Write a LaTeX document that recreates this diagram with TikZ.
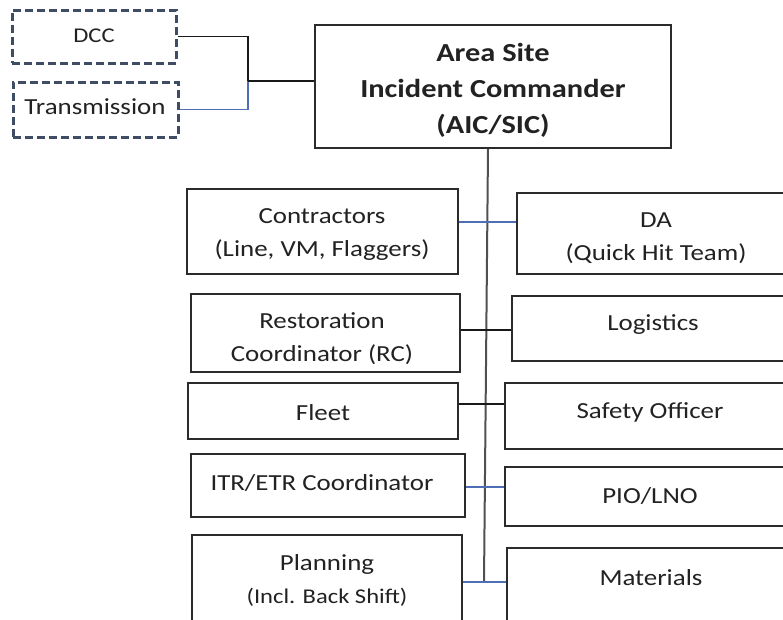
\documentclass[tikz,border=0pt]{standalone}
\usepackage{fontspec}
\setmainfont{Carlito}[FakeStretch=1.17]
\definecolor{boxcol}{HTML}{2B2B2B}
\definecolor{dashcol}{HTML}{3E4C66}
\definecolor{lineblue}{HTML}{4F6EB5}
\definecolor{textcol}{HTML}{222222}
\definecolor{trunkcol}{HTML}{505050}
\tikzset{
  box/.style={draw=boxcol, line width=1.8pt, inner sep=0pt, fill=white},
  dbox/.style={draw=dashcol, line width=3pt, dash pattern=on 8pt off 4pt, inner sep=0pt},
  txt/.style={align=center, text=textcol, inner sep=0pt, font=\fontsize{23}{33}\selectfont},
  smalltxt/.style={align=center, text=textcol, inner sep=0pt, font=\fontsize{21}{28}\selectfont},
  boldtxt/.style={align=center, text=textcol, inner sep=0pt, font=\fontsize{26}{36}\selectfont\bfseries},
  blk/.style={draw=black!90, line width=1.6pt},
  blkthick/.style={draw=black!90, line width=2.4pt},
  blu/.style={draw=lineblue, line width=1.4pt},
  trunk/.style={draw=trunkcol, line width=2pt}
}
\begin{document}
\begin{tikzpicture}[x=1pt,y=-1pt]
\useasboundingbox (0,0) rectangle (783,619);
\clip (0,0) rectangle (783,619);
\fill[white] (0,0) rectangle (783,619);

% trunk
\coordinate (tx) at (488,0);
\coordinate (tb) at (484,582);

% boxes
\node[dbox, minimum width=164pt, minimum height=53pt] (dcc) at (94,36.5) {};
\node[dbox, minimum width=165pt, minimum height=55pt] (trans) at (95.5,109.5) {};
\node[box, minimum width=356pt, minimum height=123pt] (aic) at (493,86.5) {};

\node[box, minimum width=271pt, minimum height=85pt] (contr) at (322.5,231.5) {};
\node[box, minimum width=278pt, minimum height=81pt] (da) at (656,233.5) {};
\node[box, minimum width=269pt, minimum height=78pt] (rest) at (325.5,333) {};
\node[box, minimum width=283pt, minimum height=65pt] (logi) at (653.5,328.5) {};
\node[box, minimum width=270pt, minimum height=56pt] (fleet) at (323,411) {};
\node[box, minimum width=290pt, minimum height=66pt] (safe) at (650,416) {};
\node[box, minimum width=274pt, minimum height=63pt] (itr) at (328,485.5) {};
\node[box, minimum width=290pt, minimum height=59pt] (pio) at (650,496.5) {};
\node[box, minimum width=270pt, minimum height=95pt] (plan) at (327,582.5) {};
\node[box, minimum width=288pt, minimum height=82pt] (mat) at (651,589) {};

% connectors left
\coordinate (j) at (248,81);
\draw[blu] (trans.east) -| (j);
\draw[blk] (dcc.east) -| (j);
\draw[blkthick] (j) -- (aic.west |- j);

% trunk
\draw[trunk] (aic.south -| tx) -- (tb);

% cross connectors
\coordinate (y1) at (0,222);
\coordinate (y2) at (0,330);
\coordinate (y3) at (0,404);
\coordinate (y4) at (0,487);
\coordinate (y5) at (0,582);
\draw[blu] (contr.east |- y1) -- (da.west |- y1);
\draw[blk] (rest.east |- y2) -- (logi.west |- y2);
\draw[blk] (fleet.east |- y3) -- (safe.west |- y3);
\draw[blu] (itr.east |- y4) -- (pio.west |- y4);
\draw[blu] (plan.east |- y5) -- (mat.west |- y5);

% texts
\node[smalltxt] (tdcc) at (94,36) {DCC};
\node[txt] (ttrans) at (95,107) {Transmission};
\node[boldtxt] (taic) at (493,90) {Area Site\\Incident Commander\\(AIC/SIC)};
\node[txt] (tcontr) at (322,235) {Contractors\\(Line, VM, Flaggers)};
\node[txt] (tda) at (656,238) {DA\\(Quick Hit Team)};
\node[txt] (trest) at (322,339) {Restoration\\Coordinator (RC)};
\node[txt] (tlogi) at (653,325) {Logistics};
\node[txt] (tfleet) at (323,413) {Fleet};
\node[txt] (tsafe) at (650,412) {Safety Officer};
\node[txt] (titr) at (322,483) {ITR/ETR Coordinator};
\node[txt] (tpio) at (650,496) {PIO/LNO};
\node[txt] (tplan) at (327,580) {Planning\\{\fontsize{21}{28}\selectfont (Incl. Back Shift)}};
\node[txt] (tmat) at (651,578) {Materials};
\end{tikzpicture}
\end{document}
